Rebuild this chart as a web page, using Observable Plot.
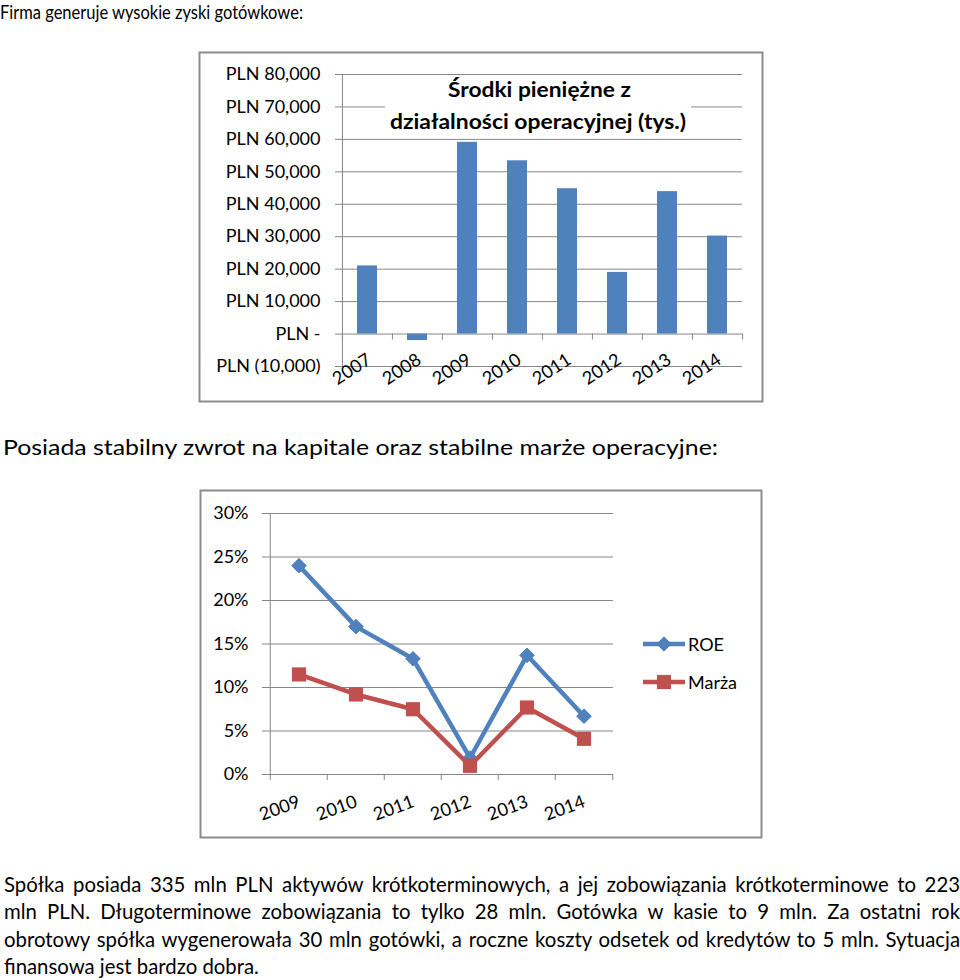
<!DOCTYPE html>
<html>
<head>
<meta charset="utf-8">
<script src="https://cdn.jsdelivr.net/npm/d3@7"></script>
<script src="https://cdn.jsdelivr.net/npm/@observablehq/plot@0.6"></script>
<style>
  html, body { margin: 0; padding: 0; background: #fff; }
  body { width: 960px; height: 980px; position: relative; overflow: hidden; font-family: Lato, sans-serif; color: #000; }
  #chart1, #chart2 { position: absolute; z-index: 1; }
  #chart1 { left: 199px; top: 52px; }
  #chart2 { left: 200px; top: 490px; }
  #overlay { position: absolute; left: 0; top: 0; z-index: 2; pointer-events: none; }
  .para { position: absolute; left: 4px; top: 870px; width: 956px; font-size: 21px; line-height: 27.4px; z-index: 3; transform-origin: 0 0; }
  .para div { text-align: justify; text-align-last: justify; white-space: nowrap; }
  .para div.last { text-align-last: left; }
</style>
</head>
<body>
<div id="chart1"></div>
<div id="chart2"></div>

<svg id="overlay" width="960" height="980" font-family="Lato, sans-serif">
  <text x="0" y="18.5" font-size="18.5" textLength="303" lengthAdjust="spacingAndGlyphs">Firma generuje wysokie zyski gotówkowe:</text>
  <text x="3" y="455" font-size="21" textLength="715" lengthAdjust="spacingAndGlyphs">Posiada stabilny zwrot na kapitale oraz stabilne marże operacyjne:</text>
  <!-- chart frames -->
  <rect x="199.5" y="52.5" width="563" height="349" fill="none" stroke="#8c8c8c" stroke-width="2"/>
  <rect x="200.5" y="490.5" width="561" height="347" fill="none" stroke="#8c8c8c" stroke-width="2"/>
  <!-- chart 1 title -->
  <rect x="385" y="78" width="306" height="57" fill="#fff"/>
  <text x="448" y="97" font-size="20" font-weight="bold" textLength="183" lengthAdjust="spacingAndGlyphs">Środki pieniężne z</text>
  <text x="390" y="129" font-size="20" font-weight="bold" textLength="296" lengthAdjust="spacingAndGlyphs">działalności operacyjnej (tys.)</text>
  <!-- chart 2 legend -->
  <g id="legend"></g>
</svg>

<div class="para" id="para">
  <div>Spółka posiada 335 mln PLN aktywów krótkoterminowych, a jej zobowiązania krótkoterminowe to 223</div>
  <div>mln PLN. Długoterminowe zobowiązania to tylko 28 mln. Gotówka w kasie to 9 mln. Za ostatni rok</div>
  <div>obrotowy spółka wygenerowała 30 mln gotówki, a roczne koszty odsetek od kredytów to 5 mln. Sytuacja</div>
  <div class="last">finansowa jest bardzo dobra.</div>
</div>

<script>
// ---------- data ----------
const cashYears = ["2007", "2008", "2009", "2010", "2011", "2012", "2013", "2014"];
const cashValues = [21000, -2000, 59100, 53400, 44800, 19000, 43900, 30200];
const cashTicks = [-10000, 0, 10000, 20000, 30000, 40000, 50000, 60000, 70000, 80000];

const ratioYears = ["2009", "2010", "2011", "2012", "2013", "2014"];
const roeValues = [0.240, 0.170, 0.133, 0.019, 0.137, 0.067];
const marzaValues = [0.115, 0.092, 0.075, 0.010, 0.077, 0.041];
const pctTicks = [0, 0.05, 0.10, 0.15, 0.20, 0.25, 0.30];

const seriesNames = ["ROE", "Marża"];
const seriesColors = ["#4F81BD", "#C0504D"];

// ---------- styles ----------
const GRID = "#868686";
const fmtNum = d3.format(",");
const fmtPLN = v => v === 0 ? "PLN -" : v < 0 ? `PLN (${fmtNum(-v)})` : `PLN ${fmtNum(v)}`;

// ---------- paragraph fit: compress horizontally so the longest line fits tightly ----------
{
  const para = document.getElementById("para");
  const ctx = document.createElement("canvas").getContext("2d");
  ctx.font = "21px Lato";
  const widest = d3.max(Array.from(para.children), d => ctx.measureText(d.textContent.trim()).width);
  const target = 956 - 15 * 1.5;
  const s = Math.min(1, target / widest);
  para.style.width = (956 / s) + "px";
  para.style.transform = `scaleX(${s})`;
}

// ---------- chart 1: bars ----------
{
  const W = 564, H = 350, ML = 142, MR = 21, MT = 22, MB = 36;
  const step = (W - ML - MR) / cashYears.length;
  const yDom = [cashTicks[0], cashTicks[cashTicks.length - 1]];
  const tickLen = 6 * (yDom[1] - yDom[0]) / (H - MT - MB);
  const data = cashYears.map((year, i) => ({year, value: cashValues[i]}));
  const chart = Plot.plot({
    width: W, height: H,
    marginLeft: ML, marginRight: MR, marginTop: MT, marginBottom: MB,
    style: {fontFamily: "Lato, sans-serif", fontSize: "18px", color: "#000", background: "transparent", overflow: "visible"},
    x: {type: "band", domain: cashYears, paddingInner: 0.6, paddingOuter: 0.3, axis: null},
    y: {domain: yDom, axis: null},
    marks: [
      Plot.ruleY(cashTicks, {stroke: GRID, strokeWidth: 1, insetLeft: -6}),
      Plot.axisY(cashTicks, {tickSize: 0, tickPadding: 21, tickFormat: fmtPLN, fontSize: 18, fill: "#000", label: null}),
      Plot.ruleX([cashYears[0]], {x: d => d, dx: -step / 2, y1: yDom[0], y2: yDom[1], stroke: GRID}),
      Plot.ruleX(cashYears, {x: d => d, dx: -step / 2, y1: 0, y2: -tickLen, stroke: GRID}),
      Plot.ruleX([cashYears[cashYears.length - 1]], {x: d => d, dx: step / 2, y1: 0, y2: -tickLen, stroke: GRID}),
      Plot.barY(data, {x: "year", y: "value", fill: "#4F81BD"}),
      Plot.text(cashYears, {x: d => d, y: 0, text: d => d, rotate: -33, textAnchor: "end", lineAnchor: "top", dx: -2, dy: 18, fontSize: 18, fill: "#000"})
    ]
  });
  document.getElementById("chart1").append(chart);
}

// ---------- chart 2: lines ----------
{
  const W = 562, H = 348, ML = 68, MR = 149, MT = 23, MB = 64;
  const step = (W - ML - MR) / ratioYears.length;
  const yDom = [pctTicks[0], pctTicks[pctTicks.length - 1]];
  const tickLen = 6 * (yDom[1] - yDom[0]) / (H - MT - MB);
  const roe = ratioYears.map((year, i) => ({year, value: roeValues[i]}));
  const marza = ratioYears.map((year, i) => ({year, value: marzaValues[i]}));
  const chart = Plot.plot({
    width: W, height: H,
    marginLeft: ML, marginRight: MR, marginTop: MT, marginBottom: MB,
    style: {fontFamily: "Lato, sans-serif", fontSize: "18px", color: "#000", background: "transparent", overflow: "visible"},
    x: {type: "band", domain: ratioYears, padding: 0, axis: null},
    y: {domain: yDom, axis: null},
    marks: [
      Plot.ruleY(pctTicks, {stroke: GRID, strokeWidth: 1, insetLeft: -6}),
      Plot.axisY(pctTicks, {tickSize: 0, tickPadding: 20, tickFormat: d3.format(".0%"), fontSize: 18, fill: "#000", label: null}),
      Plot.ruleX([ratioYears[0]], {x: d => d, dx: -step / 2, y1: yDom[0], y2: yDom[1], stroke: GRID}),
      Plot.ruleX(ratioYears, {x: d => d, dx: -step / 2, y1: 0, y2: -tickLen, stroke: GRID}),
      Plot.ruleX([ratioYears[ratioYears.length - 1]], {x: d => d, dx: step / 2, y1: 0, y2: -tickLen, stroke: GRID}),
      Plot.line(roe, {x: "year", y: "value", stroke: seriesColors[0], strokeWidth: 4.5}),
      Plot.dot(roe, {x: "year", y: "value", symbol: "diamond2", r: 6.6, fill: seriesColors[0], stroke: seriesColors[0], strokeWidth: 1}),
      Plot.line(marza, {x: "year", y: "value", stroke: seriesColors[1], strokeWidth: 4.5}),
      Plot.dot(marza, {x: "year", y: "value", symbol: "square", r: 8, fill: seriesColors[1]}),
      Plot.text(ratioYears, {x: d => d, y: 0, text: d => d, rotate: -20, textAnchor: "end", lineAnchor: "top", dx: -2, dy: 20, fontSize: 18, fill: "#000"})
    ]
  });
  document.getElementById("chart2").append(chart);
}

// ---------- legend for chart 2 ----------
{
  const g = d3.select("#legend");
  const x0 = 643, x1 = 685, rows = [644, 682];
  seriesNames.forEach((name, i) => {
    const y = rows[i], c = seriesColors[i];
    g.append("line").attr("x1", x0).attr("x2", x1).attr("y1", y).attr("y2", y).attr("stroke", c).attr("stroke-width", 4.5);
    if (i === 0) {
      g.append("path").attr("transform", `translate(${(x0 + x1) / 2},${y})`).attr("d", d3.symbol(d3.symbolDiamond2, 130)()).attr("fill", c).attr("stroke", c);
    } else {
      g.append("path").attr("transform", `translate(${(x0 + x1) / 2},${y})`).attr("d", d3.symbol(d3.symbolSquare, 200)()).attr("fill", c);
    }
    g.append("text").attr("x", 688).attr("y", y + 6.5).attr("font-size", 18).attr("fill", "#000").text(name);
  });
}
</script>
</body>
</html>
